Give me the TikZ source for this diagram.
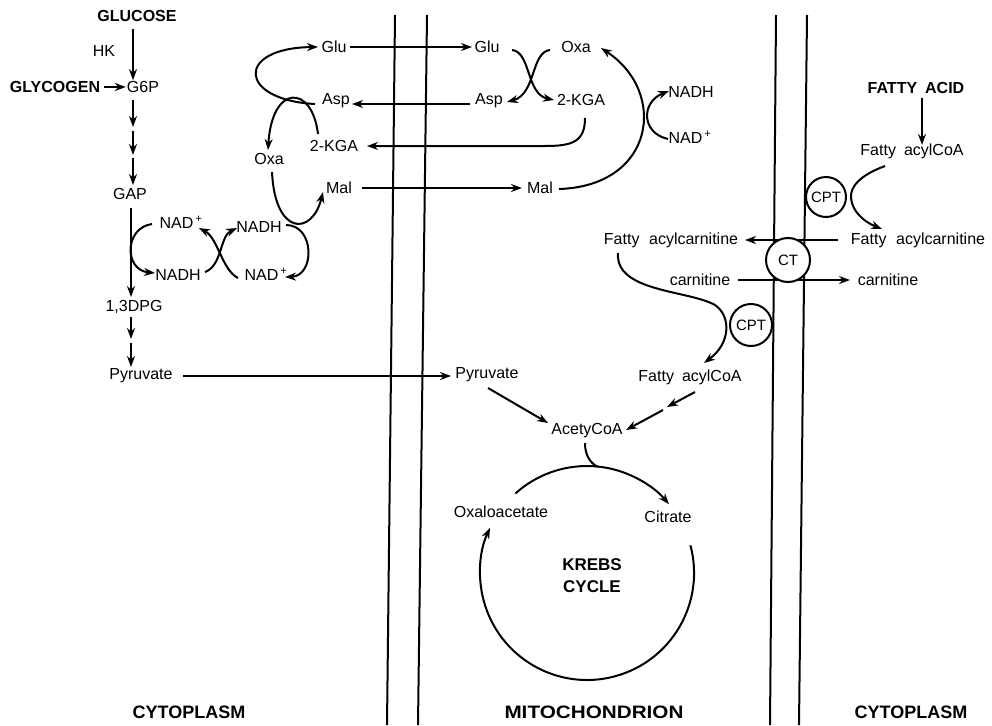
\documentclass[tikz,border=0pt]{standalone}
\usepackage{fontspec}
\setmainfont{Liberation Sans}
\usetikzlibrary{arrows.meta}
\begin{document}
\begin{tikzpicture}[x=1pt,y=-1pt,
  lbl/.style={font=\fontsize{16}{19}\selectfont, inner sep=1pt},
  blbl/.style={font=\fontsize{16}{19}\selectfont\bfseries, inner sep=1pt},
  region/.style={font=\fontsize{18}{21}\selectfont\bfseries, inner sep=1pt},
  arr/.style={line width=2pt, -{Stealth[length=11pt,width=8pt]}},
  ln/.style={line width=2pt},
  mem/.style={line width=2pt},
  enz/.style={circle, draw, line width=2pt, fill=white, inner sep=0pt, font=\fontsize{15}{17}\selectfont}]
\useasboundingbox (0,0) rectangle (992,725);
\fill[white] (0,0) rectangle (992,725);

% membranes
\draw[mem] (395,15) -- (387,725);
\draw[mem] (427,15) -- (418,725);
\draw[mem] (776,15) -- (770,725);
\draw[mem] (807,15) -- (799,725);

% ---------- glycolysis ----------
\node[blbl] (glucose) at (137,16) {GLUCOSE};
\node[lbl] (hk) at (104,51) {HK};
\node[blbl] (glycogen) at (55,87) {GLYCOGEN};
\node[lbl] (g6p) at (143,87) {G6P};
\node[lbl] (gap) at (130,194) {GAP};
\node[lbl] (dpg) at (134,307) {1,3DPG};
\node[lbl] (pyrc) at (141,376) {Pyruvate};
\coordinate (gc) at (133,0);

\draw[arr, shorten <=6pt] (glucose.south -| gc) -- (g6p.north -| gc);
\draw[arr, shorten <=3pt] (glycogen.east) -- (g6p.west);
\draw[arr] (133,100) -- (133,127);
\draw[arr] (133,131) -- (133,155);
\draw[arr] (133,158) -- (133,185);
\draw[arr] (131,208) -- (131,297);
\draw[arr] (131,317) -- (131,339);
\draw[arr] (131,343) -- (131,367);

% ---------- NAD loops (cytoplasm) ----------
\node[lbl] (nadpl) at (181,222) {NAD\textsuperscript{\,+}};
\node[lbl] (nadhl) at (178,275) {NADH};
\node[lbl] (nadhr) at (259,227) {NADH};
\node[lbl] (nadpr) at (266,274) {NAD\textsuperscript{\,+}};

\draw[arr] (152,224) .. controls (124,228) and (124,270) .. (155,273);
\draw[arr] (205,272) .. controls (222,266) and (220,236) .. (237,228);
\draw[arr] (238,278) .. controls (222,270) and (218,238) .. (199,228);
\draw[arr] (286,225) .. controls (315,225) and (315,276) .. (285,277);

% ---------- malate-aspartate shuttle ----------
\node[lbl] (gluc) at (334,47) {Glu};
\node[lbl] (aspc) at (336,101) {Asp};
\node[lbl] (kgac) at (334,146) {2-KGA};
\node[lbl] (oxac) at (269,159) {Oxa};
\node[lbl] (malc) at (339,188) {Mal};

\node[lbl] (glum) at (487,47) {Glu};
\node[lbl] (aspm) at (489,101) {Asp};
\node[lbl] (kgam) at (581,100) {2-KGA};
\node[lbl] (oxam) at (576,47) {Oxa};
\node[lbl] (malm) at (540,188) {Mal};
\node[lbl] (nadhm) at (691,92) {NADH};
\node[lbl] (nadpm) at (690,137) {NAD\textsuperscript{\,+}};

\draw[arr] (315,104) .. controls (238,100) and (235,48) .. (318,47);
\draw[arr] (318,134) .. controls (312,84) and (272,84) .. (268,150);
\draw[arr] (272,172) .. controls (275,236) and (312,236) .. (323,192);

\draw[arr] (350,47) -- (472,47);
\draw[arr] (470,104) -- (352,104);
\draw[arr] (585,118) .. controls (585,142) and (572,146) .. (545,146) -- (367,146);
\draw[arr] (362,188) -- (522,188);

\draw[arr] (512,50) .. controls (531,52) and (526,94) .. (554,100);
\draw[arr] (550,50) .. controls (531,52) and (536,94) .. (507,102);
\draw[arr] (559,189) .. controls (655,186) and (668,92) .. (601,48);
\draw[arr] (668,139) .. controls (641,133) and (641,102) .. (669,91);

% ---------- pyruvate / acetyl CoA ----------
\node[lbl] (pyrm) at (487,375) {Pyruvate};
\node[lbl] (acoa) at (587,431) {AcetyCoA};
\draw[arr] (183,376) -- (451,376);
\draw[arr] (488,388) -- (548,423);

% ---------- fatty acid side ----------
\node[blbl] (fa) at (916,88) {FATTY\hskip0.5em ACID};
\node[lbl] (facoa1) at (912,151) {Fatty\hskip0.5em acylCoA};
\node[lbl] (facr) at (918,240) {Fatty\hskip0.6em acylcarnitine};
\node[lbl] (facl) at (671,240) {Fatty\hskip0.6em acylcarnitine};
\node[lbl] (carl) at (700,280) {carnitine};
\node[lbl] (carr) at (888,280) {carnitine};
\node[lbl] (facoa2) at (690,377) {Fatty\hskip0.5em acylCoA};

\draw[arr] (922,98) -- (922,145);
\draw[arr] (838,240) -- (745,240);
\draw[arr] (738,280) -- (850,280);
\draw[arr] (885,166) .. controls (858,176) and (850,188) .. (851,198) .. controls (852,210) and (862,221) .. (882,229);
\draw[arr] (618,253) .. controls (615,292) and (688,290) .. (715,305) .. controls (731,316) and (731,343) .. (704,363);
\draw[arr] (695,392) -- (667,407);
\draw[arr] (663,410) -- (626,430);

\node[enz, minimum size=40pt] (cpt1) at (826,197) {CPT};
\node[enz, minimum size=44pt] (ct) at (788,260) {CT};
\node[enz, minimum size=42pt] (cpt2) at (751,325) {CPT};

% ---------- Krebs cycle ----------
\node[lbl] (oaa) at (501,512) {Oxaloacetate};
\node[lbl] (cit) at (668,517) {Citrate};
\node[font=\fontsize{17}{22}\selectfont\bfseries, align=center, inner sep=1pt] (krebs) at (592,576) {KREBS\\CYCLE};
\draw[ln] (585,443) .. controls (585,455) and (590,463) .. (598,467);
\draw[arr] (515.4,493.5) arc[start angle=-132, end angle=-40, radius=107];
\draw[arr] (690.4,545.3) arc[start angle=-15, end angle=205, radius=107];

% ---------- region labels ----------
\node[region] (cyto1) at (189,712) {CYTOPLASM};
\node[region] (mito) at (594,712) {\scalebox{1.15}[1]{MITOCHONDRION}};
\node[region] (cyto2) at (911,712) {CYTOPLASM};
\end{tikzpicture}
\end{document}
